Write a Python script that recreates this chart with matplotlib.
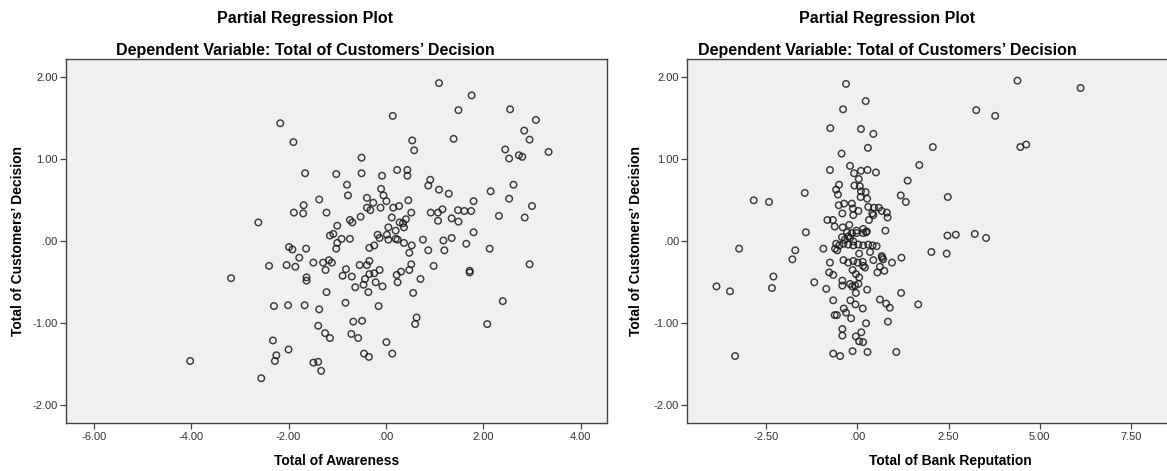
import numpy as np
import matplotlib
matplotlib.use("Agg")
import matplotlib.pyplot as plt
from matplotlib.ticker import FuncFormatter, MultipleLocator

plt.rcParams["font.family"] = ["Liberation Sans", "DejaVu Sans"]

# partial regression residuals (x, y)
awareness_points = [
    (-2.17, 1.44), (-1.90, 1.21), (-1.66, 0.83), (-1.37, 0.51), (-1.69, 0.44),
    (-1.89, 0.35), (-1.70, 0.34), (-1.22, 0.35), (-2.62, 0.23),
    (1.09, 1.93), (1.76, 1.78), (1.49, 1.60), (2.55, 1.61), (0.14, 1.53),
    (3.08, 1.48), (2.84, 1.35), (2.95, 1.24), (0.54, 1.23), (1.39, 1.25),
    (0.58, 1.11), (2.45, 1.12), (2.53, 1.01), (2.73, 1.05), (2.80, 1.03),
    (3.34, 1.09), (-0.50, 1.02), (-1.02, 0.82), (-0.50, 0.83), (-0.08, 0.80),
    (0.23, 0.87), (0.44, 0.87), (0.44, 0.80), (-0.80, 0.69), (-0.78, 0.56),
    (-1.00, 0.19), (-1.08, 0.09), (-0.91, 0.03), (-0.74, 0.03), (-0.74, 0.26),
    (-0.69, 0.23), (-0.52, 0.30), (-0.39, 0.53), (-0.10, 0.64), (-0.05, 0.56),
    (-0.26, 0.47), (-0.39, 0.41), (-0.32, 0.38), (-0.11, 0.41), (0.01, 0.49),
    (0.15, 0.41), (0.27, 0.43), (0.46, 0.50), (0.12, 0.29), (0.28, 0.23),
    (0.35, 0.22), (0.41, 0.27), (0.52, 0.35), (0.05, 0.17), (0.20, 0.13),
    (0.37, 0.17), (-0.17, 0.08), (0.02, 0.08), (0.91, 0.75), (0.87, 0.68),
    (1.09, 0.63), (1.29, 0.58), (1.80, 0.49), (2.15, 0.61), (2.62, 0.69),
    (2.53, 0.52), (3.00, 0.43), (2.85, 0.29), (2.32, 0.31), (0.92, 0.35),
    (1.07, 0.35), (1.16, 0.39), (1.07, 0.25), (1.35, 0.28), (1.49, 0.24),
    (1.48, 0.38), (1.61, 0.37), (1.75, 0.37), (1.80, 0.11), (1.35, 0.04),
    (0.76, 0.02), (1.18, 0.01),
    (-1.99, -0.07), (-1.92, -0.10), (-1.64, -0.09), (-1.78, -0.20), (-2.40, -0.30),
    (-2.04, -0.29), (-1.86, -0.31), (-1.49, -0.26), (-1.29, -0.26), (-1.24, -0.35),
    (-1.17, -0.23), (-1.63, -0.44), (-1.63, -0.48), (-1.22, -0.62), (-3.18, -0.45),
    (-2.30, -0.79), (-2.01, -0.78), (-1.67, -0.78), (-1.37, -0.83), (-1.39, -1.03),
    (-1.25, -1.12), (-1.15, -1.18), (-2.32, -1.21), (-2.00, -1.32), (-2.25, -1.39),
    (-2.28, -1.46), (-4.02, -1.46), (-2.56, -1.67), (-1.39, -1.47), (-1.49, -1.48),
    (-1.33, -1.58), (-1.15, 0.07),
    (-1.02, -0.09), (-1.00, -0.02), (-1.11, -0.26), (-0.82, -0.34), (-0.89, -0.42),
    (-0.70, -0.43), (-0.63, -0.56), (-0.46, -0.53), (-0.36, -0.62), (-0.43, -0.46),
    (-0.34, -0.40), (-0.24, -0.39), (-0.54, -0.29), (-0.39, -0.29), (-0.34, -0.24),
    (-0.34, -0.08), (-0.24, -0.05), (-0.13, 0.04), (0.05, 0.02), (0.20, 0.03),
    (0.24, 0.02), (0.37, -0.02), (0.53, -0.05), (0.48, -0.14), (0.87, -0.11),
    (1.20, -0.11), (1.65, -0.03), (2.13, -0.09), (2.95, -0.28), (1.72, -0.36),
    (1.72, -0.38), (0.98, -0.30), (0.52, -0.28), (0.48, -0.35), (0.31, -0.37),
    (0.22, -0.41), (0.24, -0.50), (0.71, -0.46), (0.56, -0.63), (-0.13, -0.35),
    (-0.21, -0.50), (-0.07, -0.55), (-0.15, -0.79), (-0.83, -0.75), (-0.67, -0.98),
    (-0.49, -0.97), (-0.71, -1.13), (-0.57, -1.18), (-0.45, -1.37), (-0.35, -1.41),
    (0.01, -1.23), (0.13, -1.37), (0.63, -0.93), (0.60, -1.01), (2.08, -1.01),
    (2.40, -0.73),
]

reputation_points = [
    (-0.31, 1.92), (0.23, 1.71), (-0.39, 1.61), (-0.74, 1.38), (0.10, 1.37),
    (0.44, 1.31), (0.29, 1.14), (-0.43, 1.07), (-0.75, 0.87), (-0.20, 0.92),
    (-0.09, 0.83), (0.10, 0.86), (0.28, 0.87), (0.51, 0.84), (0.04, 0.76),
    (-0.08, 0.68), (0.07, 0.67), (-0.50, 0.69), (-0.58, 0.63), (-0.53, 0.57),
    (0.10, 0.61), (0.23, 0.60), (0.09, 0.54), (0.27, 0.52), (-1.44, 0.59),
    (-2.84, 0.50), (-2.42, 0.48), (-0.51, 0.44), (-0.36, 0.46), (-0.15, 0.46),
    (-0.12, 0.40), (-0.41, 0.34), (-0.11, 0.32), (0.03, 0.37), (0.30, 0.42),
    (0.46, 0.41), (0.41, 0.34), (0.32, 0.26), (-0.82, 0.26), (-0.67, 0.26),
    (-0.62, 0.18), (-0.40, 0.17), (-0.22, 0.20), (-0.28, 0.11), (-0.02, 0.13),
    (0.16, 0.15), (0.24, 0.11), (-1.41, 0.11), (-0.42, 0.05),
    (4.39, 1.96), (6.12, 1.87), (3.26, 1.60), (3.78, 1.53), (2.07, 1.15),
    (4.47, 1.15), (4.63, 1.18), (1.70, 0.93), (1.38, 0.74), (1.19, 0.56),
    (1.33, 0.48), (2.48, 0.54), (0.59, 0.41), (0.67, 0.37), (0.81, 0.35),
    (0.83, 0.29), (0.44, 0.32), (0.77, 0.13), (2.47, 0.07), (2.70, 0.08),
    (3.22, 0.09), (3.53, 0.04),
    (0.67, -0.18), (0.68, -0.20), (0.71, -0.22), (0.95, -0.26), (1.21, -0.20),
    (0.74, -0.36), (2.03, -0.13), (2.45, -0.15), (1.20, -0.63), (0.79, -0.76),
    (0.89, -0.81), (1.67, -0.77), (0.84, -0.98), (1.07, -1.35),
    (-3.24, -0.09), (-3.86, -0.55), (-3.49, -0.61), (-3.35, -1.40), (-2.30, -0.43),
    (-2.34, -0.57), (-1.70, -0.11), (-1.78, -0.22), (-1.18, -0.50), (-0.93, -0.09),
    (-0.85, -0.58), (-0.75, -0.26), (-0.77, -0.38), (-0.66, -0.41), (-0.66, -0.72),
    (-0.62, -0.90), (-0.56, -0.90), (-0.41, -1.07), (-0.41, -1.15), (-0.66, -1.37),
    (-0.47, -1.40), (-0.13, -1.34), (0.28, -1.35), (-0.04, -1.16), (0.05, -1.22),
    (0.16, -1.23), (0.11, -1.11), (0.24, -1.00), (-0.37, -0.82), (-0.31, -0.87),
    (-0.17, -0.94), (-0.05, -0.77), (0.15, -0.82), (-0.19, -0.72), (-0.41, -0.48),
    (-0.41, -0.54), (-0.20, -0.52), (-0.14, -0.55), (-0.06, -0.54), (0.03, -0.52),
    (-0.04, -0.63), (0.27, -0.59), (-0.13, -0.35), (-0.04, -0.40), (0.05, -0.44),
    (-0.38, -0.23), (-0.25, -0.26), (-0.11, -0.24), (0.01, -0.26), (0.15, -0.25),
    (0.16, -0.30), (0.21, -0.32), (0.05, -0.15), (0.35, -0.13), (0.44, -0.23),
    (0.55, -0.38), (0.62, -0.31), (0.62, -0.71), (-0.58, -0.03), (-0.49, -0.05),
    (-0.38, -0.03), (-0.25, -0.04), (-0.11, -0.05), (0.03, -0.04), (0.16, -0.05),
    (0.30, -0.04), (0.42, -0.05), (0.53, -0.06), (-0.61, -0.09), (-0.55, -0.11),
    (-0.25, 0.06), (-0.15, 0.10), (-0.02, 0.10), (0.16, 0.10), (0.26, 0.12),
    (-0.34, 0.02), (-0.20, 0.04), (-0.11, 0.00),
]

title_main = "Partial Regression Plot"
title_sub = "Dependent Variable: Total of Customers\u2019 Decision"
y_label = "Total of Customers\u2019 Decision"
x_labels = ["Total of Awareness", "Total of Bank Reputation"]


def spss_fmt(v, pos):
    s = f"{v:.2f}"
    if s in ("0.00", "-0.00"):
        return ".00"
    return s


def setup_axes(ax, xlim, xstep, xlabel, ylabel_x):
    ax.set_facecolor("#f0f0f0")
    ax.set_xlim(*xlim)
    ax.set_ylim(-2.22, 2.22)
    ax.xaxis.set_major_locator(MultipleLocator(xstep))
    ax.yaxis.set_major_locator(MultipleLocator(1.0))
    ax.xaxis.set_major_formatter(FuncFormatter(spss_fmt))
    ax.yaxis.set_major_formatter(FuncFormatter(spss_fmt))
    ax.tick_params(direction="out", length=4, width=0.9, color="#444444",
                   labelsize=8, labelcolor="#333333", pad=2)
    for sp in ax.spines.values():
        sp.set_color("#444444")
        sp.set_linewidth(1.0)
    ax.set_xlabel(xlabel, fontsize=10, fontweight="bold")
    ax.set_ylabel(y_label, fontsize=10, fontweight="bold")
    ax.xaxis.set_label_coords(0.5, -0.085)
    ax.yaxis.set_label_coords(ylabel_x, 0.5)
    ax.xaxis.label.set_va("top")
    ax.yaxis.label.set_va("center")


fig = plt.figure(figsize=(11.67, 4.71), dpi=100)
W, H = 1167.0, 471.0

ax1 = fig.add_axes([66 / W, 1 - 423.3 / H, 541 / W, 364 / H])
ax2 = fig.add_axes([687.3 / W, 1 - 423.3 / H, 525.7 / W, 364 / H])

pa = np.array(awareness_points)
pr = np.array(reputation_points)

for ax, pts in ((ax1, pa), (ax2, pr)):
    ax.scatter(pts[:, 0], pts[:, 1], s=22, facecolors="none",
               edgecolors="#1a1a1a", linewidths=1.05, alpha=0.85, zorder=3)

setup_axes(ax1, (-6.57, 4.54), 2.0, x_labels[0], -0.089)
setup_axes(ax2, (-4.66, 9.75), 2.5, x_labels[1], -0.098)

for cx in (305 / W, 887 / W):
    fig.text(cx, 1 - 18.3 / H, title_main, ha="center", va="center",
             fontsize=11.5, fontweight="bold")
    fig.text(cx, 1 - 50 / H, title_sub, ha="center", va="center",
             fontsize=11.5, fontweight="bold")

fig.savefig("out.png", dpi=100, facecolor="white")
